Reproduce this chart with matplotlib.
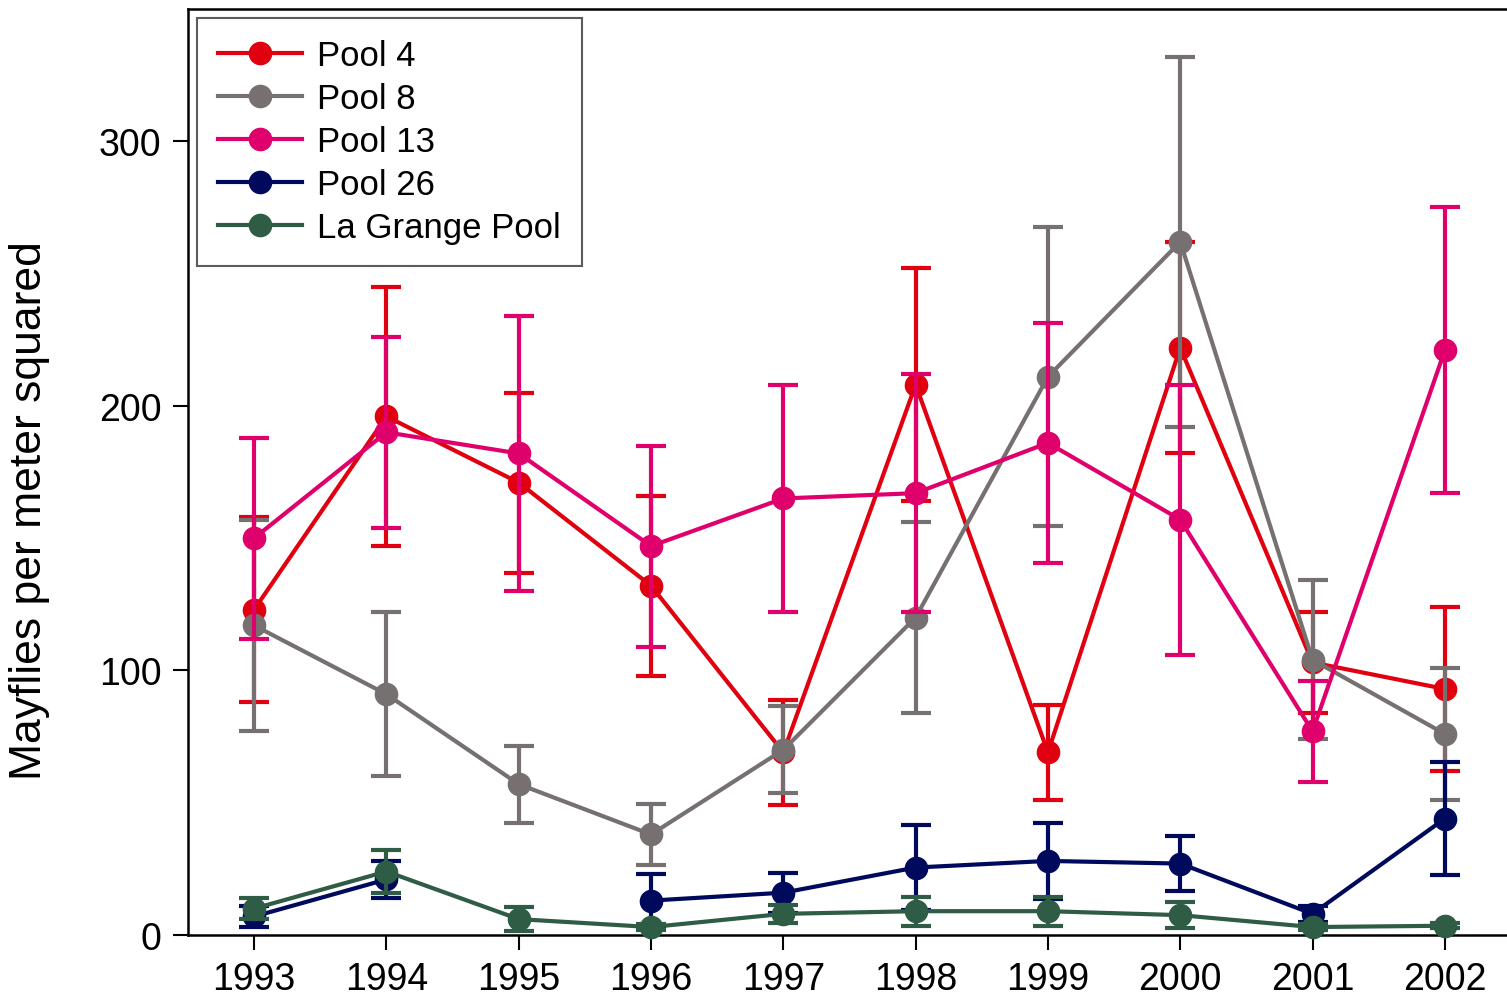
import numpy as np
import matplotlib
matplotlib.use('Agg')
import matplotlib.pyplot as plt

plt.rcParams['font.family'] = ['Liberation Sans', 'DejaVu Sans']

years = [1993, 1994, 1995, 1996, 1997, 1998, 1999, 2000, 2001, 2002]

# mean mayflies per m^2 and error (half-width)
pool4 = [123, 196, 171, 132, 69, 208, 69, 222, 103, 93]
pool4_err = [35, 49, 34, 34, 20, 44, 18, 40, 19, 31]

pool8 = [117, 91, 57, 38, 70, 120, 211, 262, 104, 76]
pool8_err = [40, 31, 14.5, 11.5, 16.5, 36, 56.5, 70, 30, 25]

pool13 = [150, 190, 182, 147, 165, 167, 186, 157, 77, 221]
pool13_err = [38, 36, 52, 38, 43, 45, 45.5, 51, 19, 54]

# Pool 26 has no 1995 sample
pool26 = [7, 21, np.nan, 13, 16, 25.5, 28, 27, 8, 44]
pool26_err = [4, 7, np.nan, 10, 7.5, 16, 14.5, 10.5, 3, 21.5]

lagrange = [10, 24, 6, 3, 8, 9, 9, 7.5, 3, 3.5]
lagrange_err = [4, 8, 4.5, 1, 3.5, 5.5, 5.5, 5, 1, 1]

series = [
    ('Pool 4', pool4, pool4_err, '#e0000f'),
    ('Pool 8', pool8, pool8_err, '#777070'),
    ('Pool 13', pool13, pool13_err, '#e0006c'),
    ('Pool 26', pool26, pool26_err, '#000a5c'),
    ('La Grange Pool', lagrange, lagrange_err, '#2f5c44'),
]

fig = plt.figure(figsize=(15.07, 10.04), dpi=100)
ax = fig.add_axes([188 / 1507, 68 / 1004, 1323 / 1507, 926 / 1004])

lw = 3.0
handles = []
for i, (name, vals, errs, color) in enumerate(series):
    x = np.array(years, dtype=float)
    y = np.array(vals, dtype=float)
    e = np.array(errs, dtype=float)
    ok = ~np.isnan(y)
    z = 3 + i
    ax.errorbar(x[ok], y[ok], yerr=e[ok], fmt='none', ecolor=color,
                elinewidth=lw, capsize=11, capthick=lw, clip_on=False, zorder=z)
    # NaN left in so the line breaks at the missing year
    ln, = ax.plot(x, y, color=color, linewidth=lw, marker='o', markersize=16,
                  clip_on=False, zorder=z, label=name)
    handles.append(ln)

ax.set_xlim(1992.5, 2002.5)
ax.set_ylim(0, 350)
ax.set_xticks(years)
ax.set_yticks([0, 100, 200, 300])
ax.tick_params(axis='both', direction='out', length=11, width=1.5,
               labelsize=27, pad=8)
for s in ax.spines.values():
    s.set_linewidth(1.8)
ax.set_ylabel('Mayflies per meter squared', fontsize=32)
ax.yaxis.set_label_coords(-0.104, 0.459)

leg = ax.legend(handles=handles, loc='upper left', fontsize=25, frameon=True,
                fancybox=False, edgecolor='#333333', handlelength=2.4,
                labelspacing=0.29, borderaxespad=0.25, borderpad=0.62,
                handletextpad=0.45)
leg.get_frame().set_linewidth(1.5)

fig.savefig('out.png', dpi=100)
